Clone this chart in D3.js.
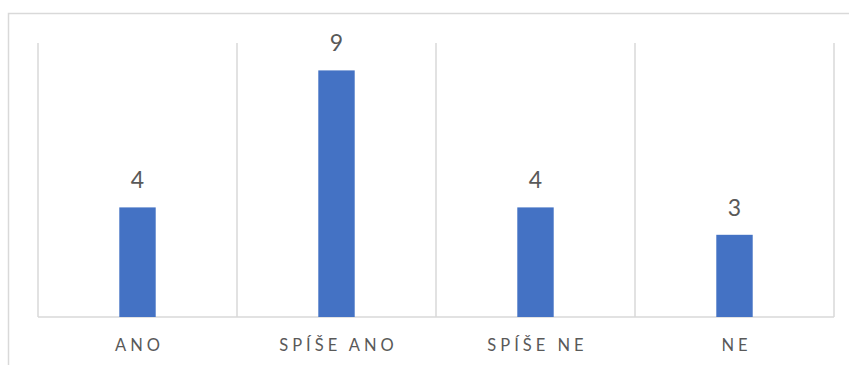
<!DOCTYPE html>
<html>
<head>
<meta charset="utf-8">
<script src="https://cdn.jsdelivr.net/npm/d3@7"></script>
<style>
  html, body { margin: 0; padding: 0; background: #ffffff; }
  svg { display: block; }
</style>
</head>
<body>
<div id="chart"></div>
<script>
// Survey answers and their counts
const categories = ["ANO", "SPÍŠE ANO", "SPÍŠE NE", "NE"];
const counts = [4, 9, 4, 3];
const valueDomain = [0, 10];

const width = 849, height = 365;
const plot = { left: 38, right: 834, top: 43, bottom: 317 };
const gridColor = "#d9d9d9";
const textColor = "#595959";
const barColor = "#4472c4";
const letterSpacing = 4;

const svg = d3.select("#chart").append("svg")
  .attr("width", width)
  .attr("height", height);

// Outer chart frame (extends beyond the visible area on the right and bottom)
svg.append("path")
  .attr("d", `M8.5,${height + 5} V13.5 H${width + 5}`)
  .attr("fill", "none")
  .attr("stroke", gridColor)
  .attr("stroke-width", 1.5);

const x = d3.scaleBand()
  .domain(categories)
  .range([plot.left, plot.right])
  .paddingInner(0)
  .paddingOuter(0);

const y = d3.scaleLinear()
  .domain(valueDomain)
  .range([plot.bottom, plot.top]);

// Vertical category separators
const boundaries = categories.map(c => x(c)).concat([x(categories[categories.length - 1]) + x.bandwidth()]);
svg.append("g")
  .selectAll("line")
  .data(boundaries)
  .join("line")
  .attr("x1", d => d).attr("x2", d => d)
  .attr("y1", y(valueDomain[1])).attr("y2", y(0))
  .attr("stroke", gridColor)
  .attr("stroke-width", 1.5);

// Baseline
svg.append("line")
  .attr("x1", plot.left).attr("x2", plot.right)
  .attr("y1", y(0)).attr("y2", y(0))
  .attr("stroke", gridColor)
  .attr("stroke-width", 1.5);

const barWidth = x.bandwidth() * 0.183;
const data = categories.map((c, i) => ({ category: c, value: counts[i] }));

svg.append("g")
  .selectAll("rect")
  .data(data)
  .join("rect")
  .attr("x", d => x(d.category) + x.bandwidth() / 2 - barWidth / 2)
  .attr("y", d => y(d.value))
  .attr("width", barWidth)
  .attr("height", d => y(0) - y(d.value))
  .attr("fill", barColor);

// Value labels above bars
svg.append("g")
  .selectAll("text")
  .data(data)
  .join("text")
  .attr("x", d => x(d.category) + x.bandwidth() / 2)
  .attr("y", d => y(d.value) - 19)
  .attr("text-anchor", "middle")
  .attr("font-family", "Lato, 'Open Sans', sans-serif")
  .attr("font-size", 23)
  .attr("fill", textColor)
  .text(d => d.value);

// Category axis labels
const xAxis = d3.axisBottom(x).tickSize(0).tickPadding(0);
const axisG = svg.append("g")
  .attr("transform", `translate(0,${y(0)})`)
  .call(xAxis);
axisG.select(".domain").remove();
axisG.selectAll("text")
  .attr("y", 34)
  .attr("dy", 0)
  .attr("dx", letterSpacing / 2)
  .attr("font-family", "Lato, 'Open Sans', sans-serif")
  .attr("font-size", 16.5)
  .attr("fill", textColor)
  .style("letter-spacing", letterSpacing + "px");
</script>
</body>
</html>
